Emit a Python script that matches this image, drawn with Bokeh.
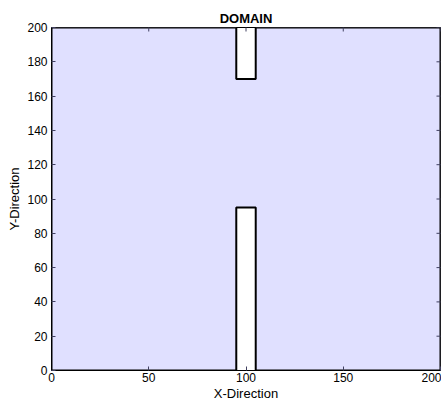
import math
from bokeh.plotting import figure
from bokeh.models import FixedTicker, Range1d
from bokeh.embed import file_html
from bokeh.resources import INLINE

# Domain outline: outer box with two thin barriers at the centre
domain_x = [0, 95, 95, 105, 105, 200, 200, 105, 105, 95, 95, 0, 0]
domain_y = [0, 0, 95, 95, 0, 0, 200, 200, 170, 170, 200, 200, 0]

x_ticks = [0, 50, 100, 150, 200]
y_ticks = [0, 20, 40, 60, 80, 100, 120, 140, 160, 180, 200]

FONT = "Liberation Sans"
TICK_COLOR = "#404060"

p = figure(width=441, height=403, output_backend="svg", toolbar_location=None,
           x_range=Range1d(0, 200), y_range=Range1d(0, 200),
           min_border_left=51, min_border_right=1, min_border_top=27, min_border_bottom=33,
           title="DOMAIN")
p.background_fill_color = "white"
p.border_fill_color = "white"
p.outline_line_color = "black"
p.outline_line_width = 1
p.xgrid.visible = False
p.ygrid.visible = False

p.title.align = "center"
p.title.text_font = FONT
p.title.text_font_size = "13px"
p.title.text_font_style = "bold"
p.title.text_color = "black"
p.title.standoff = 4

p.patch(domain_x, domain_y, fill_color="#e0e0ff", line_color="black", line_width=2)

# inward tick marks along the top and right edges of the box
p.scatter(x_ticks, [200] * len(x_ticks), marker="dash", size=8, angle=math.pi / 2,
          line_color=TICK_COLOR, line_width=1)
p.scatter([200] * len(y_ticks), y_ticks, marker="dash", size=8,
          line_color=TICK_COLOR, line_width=1)


def style_axis(ax):
    ax.axis_line_color = "black"
    ax.axis_line_width = 1
    ax.major_tick_in = 4
    ax.major_tick_out = 0
    ax.minor_tick_line_color = None
    ax.major_tick_line_color = TICK_COLOR
    ax.major_label_text_font = FONT
    ax.major_label_text_font_size = "12px"
    ax.major_label_text_color = "black"
    ax.axis_label_text_font = FONT
    ax.axis_label_text_font_size = "13px"
    ax.axis_label_text_font_style = "normal"
    ax.axis_label_text_color = "black"


xa = p.xaxis[0]
xa.ticker = FixedTicker(ticks=x_ticks)
xa.axis_label = "X-Direction"
xa.axis_label_standoff = 1
xa.major_label_standoff = 2
style_axis(xa)

ya = p.yaxis[0]
ya.ticker = FixedTicker(ticks=y_ticks)
ya.axis_label = "Y-Direction"
ya.axis_label_standoff = 2
ya.major_label_standoff = 4
style_axis(ya)

open("out.html", "w").write(file_html(p, INLINE))
